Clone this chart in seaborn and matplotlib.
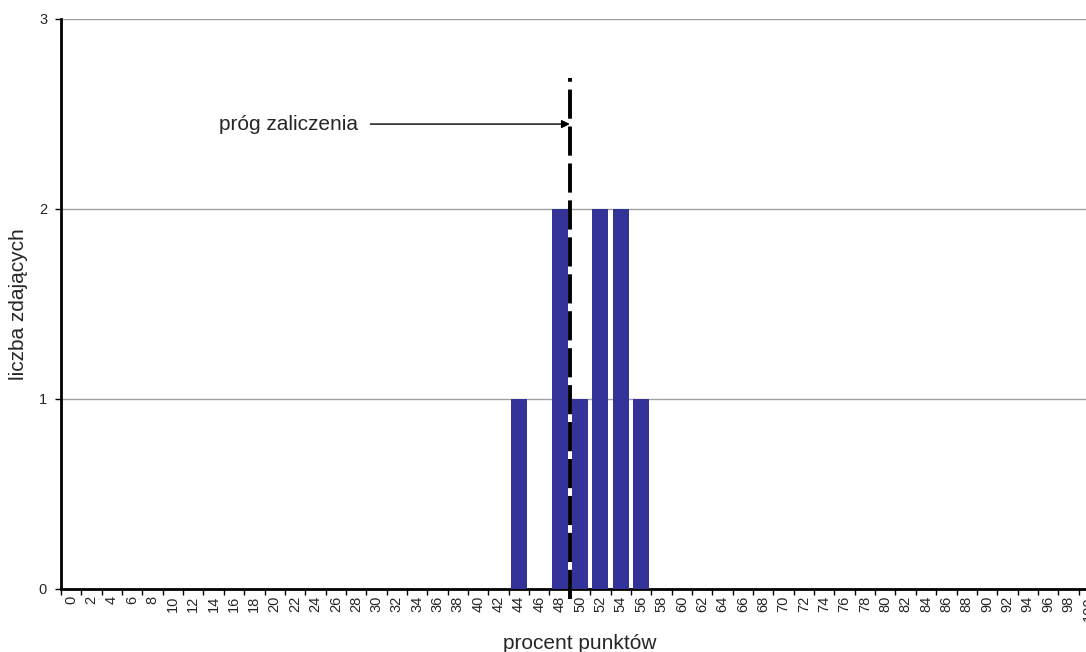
import numpy as np
import pandas as pd
import matplotlib
matplotlib.use("Agg")
import matplotlib.pyplot as plt
import seaborn as sns
from matplotlib.ticker import FixedLocator

# dane
procent = list(range(0, 101, 2))
liczba = [0] * len(procent)
wyniki = {44: 1, 48: 2, 50: 1, 52: 2, 54: 2, 56: 1}
for k, v in wyniki.items():
    liczba[procent.index(k)] = v
prog = 49

df = pd.DataFrame({"procent": [str(p) for p in procent], "liczba": liczba})

sns.set_style("white")
plt.rcParams["font.family"] = ["Liberation Sans", "DejaVu Sans"]

fig = plt.figure(figsize=(10.86, 6.52), dpi=100)
ax = fig.add_axes([61 / 1086, 1 - 589 / 652, 1038 / 1086, 570 / 652])

sns.barplot(data=df, x="procent", y="liczba", color="#333399", saturation=1,
            width=0.79, linewidth=0, edgecolor="none", ax=ax, zorder=3)

ax.set_xlim(-0.5, len(procent) - 0.5)
ax.set_ylim(0, 3)
ax.set_yticks([0, 1, 2, 3])
ax.yaxis.grid(True, color="#a0a0a0", lw=1, zorder=0)
ax.xaxis.grid(False)

for s in ["top", "right"]:
    ax.spines[s].set_visible(False)
for s in ["left", "bottom"]:
    ax.spines[s].set_color("black")
    ax.spines[s].set_linewidth(2)

ax.tick_params(axis="x", which="major", length=0, labelsize=10.5, rotation=90, pad=5)
ax.xaxis.set_minor_locator(FixedLocator(np.arange(-0.5, len(procent), 1)))
ax.tick_params(axis="x", which="minor", bottom=True, length=4, width=1, color="black")
ax.tick_params(axis="y", left=True, length=4, width=1, color="black", labelsize=10.5, pad=6)

ax.set_xlabel("procent punktów", fontsize=15, labelpad=10)
ax.set_ylabel("liczba zdających", fontsize=15)
ax.yaxis.set_label_coords(-0.032, 0.5)

# próg zaliczenia
xp = prog / 2
ax.plot([xp, xp], [-0.05, 2.69], color="black", lw=2.8, linestyle=(0, (7.5, 2)),
        zorder=5, clip_on=False)
ax.annotate("", xy=(xp, 2.447), xytext=(14.7, 2.447),
            arrowprops=dict(arrowstyle="-|>", lw=1, color="black", mutation_scale=12,
                            shrinkA=0, shrinkB=0))
ax.text(14.1, 2.447, "próg zaliczenia", ha="right", va="center", fontsize=15)

fig.savefig("out.png", dpi=100)
